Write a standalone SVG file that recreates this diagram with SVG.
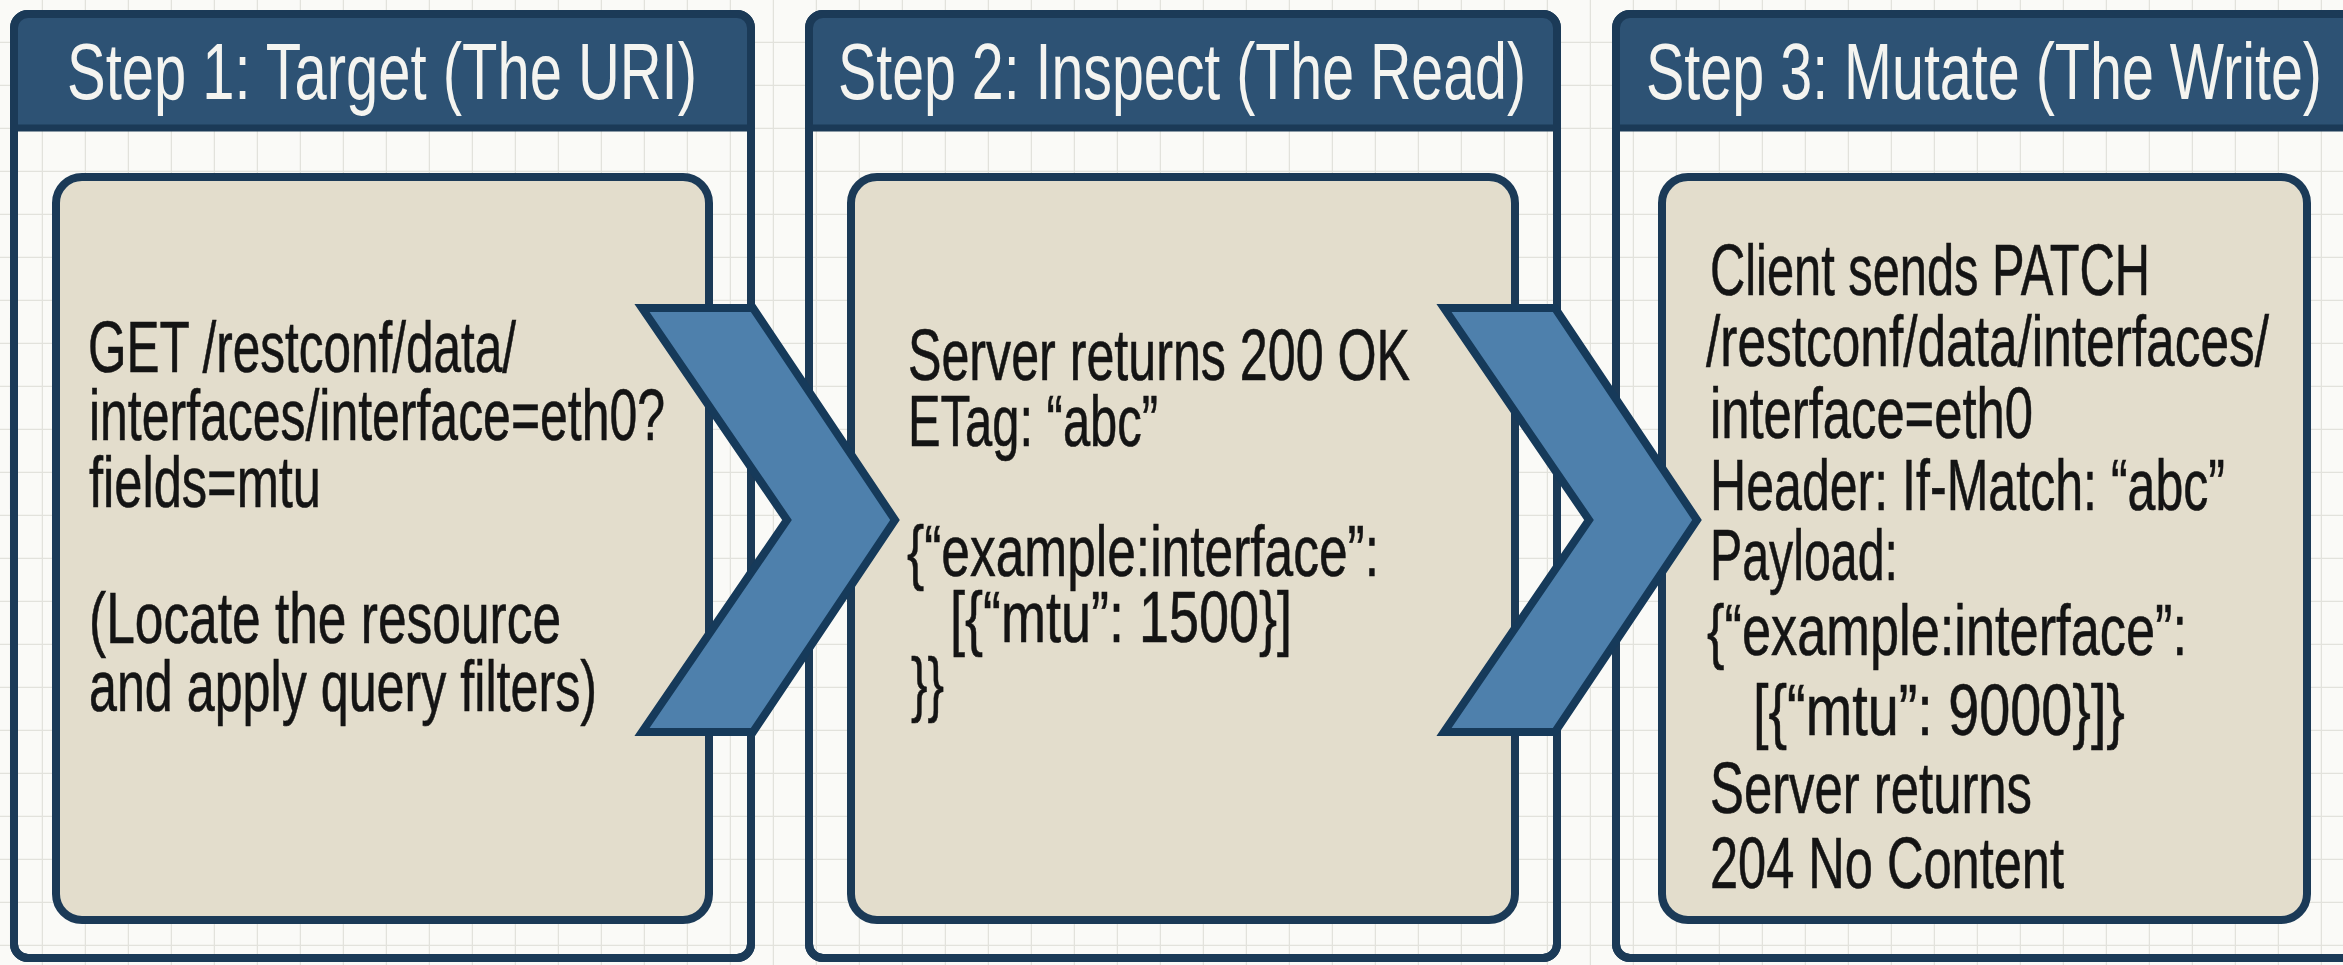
<svg xmlns="http://www.w3.org/2000/svg" width="2343" height="965" viewBox="0 0 2343 965">
<style>
.frame{fill:url(#grid);stroke:#1b3a57;stroke-width:8}
.head{fill:#2d5274}
.headline{stroke:#1b3a57;stroke-width:7}
.edge{fill:none;stroke:#1b3a57;stroke-width:8}
.box{fill:#e3ddcc;stroke:#1b3a57;stroke-width:8}
.h{font-family:"Liberation Sans Narrow","Liberation Sans",Arial,sans-serif;font-size:79px;fill:#f4f4f0}
.b{font-family:"Liberation Sans Narrow","Liberation Sans",Arial,sans-serif;font-size:72px;fill:#141414;stroke:#141414;stroke-width:0.6}
.chev{fill:#4e80ac;stroke:#163a5a;stroke-width:8;stroke-linejoin:miter}
</style>
<defs>
<pattern id="grid" width="43" height="43" patternUnits="userSpaceOnUse">
<rect width="43" height="43" fill="#fafaf7"/>
<path d="M42.5 0V43M0 42.5H43" stroke="#e2e2dc" stroke-width="1.5" fill="none"/>
</pattern>
</defs>
<rect x="0" y="0" width="2343" height="965" fill="url(#grid)"/>

<g id="panel1">
<rect class="frame" x="14" y="14" width="737" height="944" rx="14"/>
<path class="head" d="M14 128V28Q14 14 28 14H737Q751 14 751 28V128Z"/>
<line class="headline" x1="14" y1="128" x2="751" y2="128"/>
<rect class="edge" x="14" y="14" width="737" height="944" rx="14"/>
<text class="h" x="382" y="99" text-anchor="middle" textLength="630" lengthAdjust="spacingAndGlyphs">Step 1: Target (The URI)</text>
<rect class="box" x="56" y="177" width="653" height="743" rx="26"/>
<text class="b" x="88" y="372" textLength="428" lengthAdjust="spacingAndGlyphs">GET /restconf/data/</text>
<text class="b" x="89" y="440" textLength="576" lengthAdjust="spacingAndGlyphs">interfaces/interface=eth0?</text>
<text class="b" x="89" y="507" textLength="232" lengthAdjust="spacingAndGlyphs">fields=mtu</text>
<text class="b" x="89" y="643" textLength="472" lengthAdjust="spacingAndGlyphs">(Locate the resource</text>
<text class="b" x="89" y="711" textLength="508" lengthAdjust="spacingAndGlyphs">and apply query filters)</text>
</g>

<g id="panel2">
<rect class="frame" x="809" y="14" width="748" height="944" rx="14"/>
<path class="head" d="M809 128V28Q809 14 823 14H1543Q1557 14 1557 28V128Z"/>
<line class="headline" x1="809" y1="128" x2="1557" y2="128"/>
<rect class="edge" x="809" y="14" width="748" height="944" rx="14"/>
<text class="h" x="838" y="99" textLength="688" lengthAdjust="spacingAndGlyphs">Step 2: Inspect (The Read)</text>
<rect class="box" x="851" y="177" width="664" height="743" rx="26"/>
<text class="b" x="908" y="380" textLength="502" lengthAdjust="spacingAndGlyphs">Server returns 200 OK</text>
<text class="b" x="908" y="446" textLength="250" lengthAdjust="spacingAndGlyphs">ETag: “abc”</text>
<text class="b" x="907" y="576" textLength="472" lengthAdjust="spacingAndGlyphs">{“example:interface”:</text>
<text class="b" x="950" y="642" textLength="342" lengthAdjust="spacingAndGlyphs">[{“mtu”: 1500}]</text>
<text class="b" x="911" y="708" textLength="33" lengthAdjust="spacingAndGlyphs">}}</text>
</g>

<g id="panel3">
<rect class="frame" x="1616" y="14" width="760" height="944" rx="14"/>
<path class="head" d="M1616 128V28Q1616 14 1630 14H2362Q2376 14 2376 28V128Z"/>
<line class="headline" x1="1616" y1="128" x2="2376" y2="128"/>
<rect class="edge" x="1616" y="14" width="760" height="944" rx="14"/>
<text class="h" x="1646" y="99" textLength="676" lengthAdjust="spacingAndGlyphs">Step 3: Mutate (The Write)</text>
<rect class="box" x="1662" y="177" width="645" height="743" rx="26"/>
<text class="b" x="1710" y="295" textLength="440" lengthAdjust="spacingAndGlyphs">Client sends PATCH</text>
<text class="b" x="1706" y="366" textLength="563" lengthAdjust="spacingAndGlyphs">/restconf/data/interfaces/</text>
<text class="b" x="1710" y="438" textLength="323" lengthAdjust="spacingAndGlyphs">interface=eth0</text>
<text class="b" x="1710" y="510" textLength="515" lengthAdjust="spacingAndGlyphs">Header: If-Match: “abc”</text>
<text class="b" x="1710" y="580" textLength="188" lengthAdjust="spacingAndGlyphs">Payload:</text>
<text class="b" x="1707" y="655" textLength="480" lengthAdjust="spacingAndGlyphs">{“example:interface”:</text>
<text class="b" x="1753" y="735" textLength="372" lengthAdjust="spacingAndGlyphs">[{“mtu”: 9000}]}</text>
<text class="b" x="1710" y="813" textLength="322" lengthAdjust="spacingAndGlyphs">Server returns</text>
<text class="b" x="1710" y="888" textLength="354" lengthAdjust="spacingAndGlyphs">204 No Content</text>
</g>

<g id="connectors">
<polygon class="chev" points="642,308 753,308 895,520 753,732 642,732 787,520"/>
<polygon class="chev" points="1444,308 1555,308 1697,520 1555,732 1444,732 1589,520"/>
</g>
</svg>
